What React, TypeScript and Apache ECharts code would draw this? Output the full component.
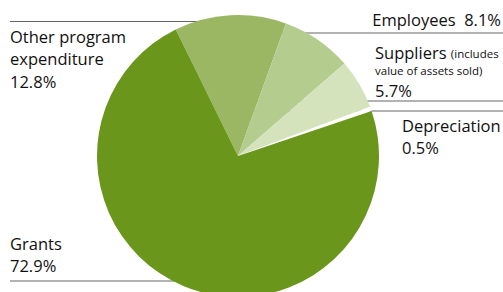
import React, { useEffect, useRef } from "react";
import * as echarts from "echarts";

const categories = ["Other program expenditure", "Employees", "Suppliers", "Depreciation", "Grants"];
const shares = [12.8, 8.1, 5.7, 0.5, 72.9];
const colors = ["#9bb763", "#b5cc8f", "#d5e3bd", "#ffffff", "#6a961c"];

const FONT = "'Open Sans', sans-serif";
const FS = 16.5;
const SMALL = 11.5;
const TXT = "#111111";
const LINE = "#666666";

export default function App() {
  const ref = useRef<HTMLDivElement>(null);
  useEffect(() => {
    document.body.style.margin = "0";
    const chart = echarts.init(ref.current!, null, { renderer: "svg" });
    const pct = (i: number) => shares[i].toFixed(1) + "%";
    const t = (text: string, x: number, y: number, align = "left", size = FS) => ({
      type: "text",
      x,
      y,
      style: { text, fill: TXT, font: `${size}px ${FONT}`, align, verticalAlign: "middle" },
      z: 10,
    });
    const hl = (x1: number, x2: number, y: number) => ({
      type: "line",
      shape: { x1, y1: y, x2, y2: y },
      style: { stroke: LINE, lineWidth: 1.2 },
      z: 0,
    });
    chart.setOption({
      animation: false,
      graphic: [
        hl(10, 240, 21.5),
        hl(240, 503, 33),
        hl(240, 503, 101),
        hl(240, 503, 111),
        hl(10, 240, 281),
        t("Other program", 10, 36),
        t("expenditure", 10, 58),
        t(pct(0), 10, 81),
        t(categories[1] + "  " + pct(1), 501, 19, "right"),
        {
          type: "text",
          x: 375,
          y: 52,
          z: 10,
          style: {
            text: categories[2] + " {s|(includes}",
            fill: TXT,
            font: `${FS}px ${FONT}`,
            align: "left",
            verticalAlign: "middle",
            rich: { s: { fontSize: SMALL, fontFamily: FONT, fill: TXT, padding: [3, 0, 0, 0] } },
          },
        },
        t("value of assets sold)", 375, 70, "left", SMALL),
        t(pct(2), 375, 90),
        t(categories[3], 402, 125),
        t(pct(3), 402, 147),
        t(categories[4], 10, 243),
        t(pct(4), 10, 265),
      ],
      series: [
        {
          type: "pie",
          center: [238, 156],
          radius: 141,
          startAngle: 116.2,
          clockwise: true,
          silent: true,
          z: 5,
          label: { show: false },
          labelLine: { show: false },
          itemStyle: { borderWidth: 0 },
          data: categories.map((name, i) => ({
            name,
            value: shares[i],
            itemStyle: { color: colors[i] },
          })),
        },
      ],
    });
    return () => chart.dispose();
  }, []);
  return <div ref={ref} style={{ position: "absolute", left: 0, top: 0, width: 503, height: 292 }} />;
}
